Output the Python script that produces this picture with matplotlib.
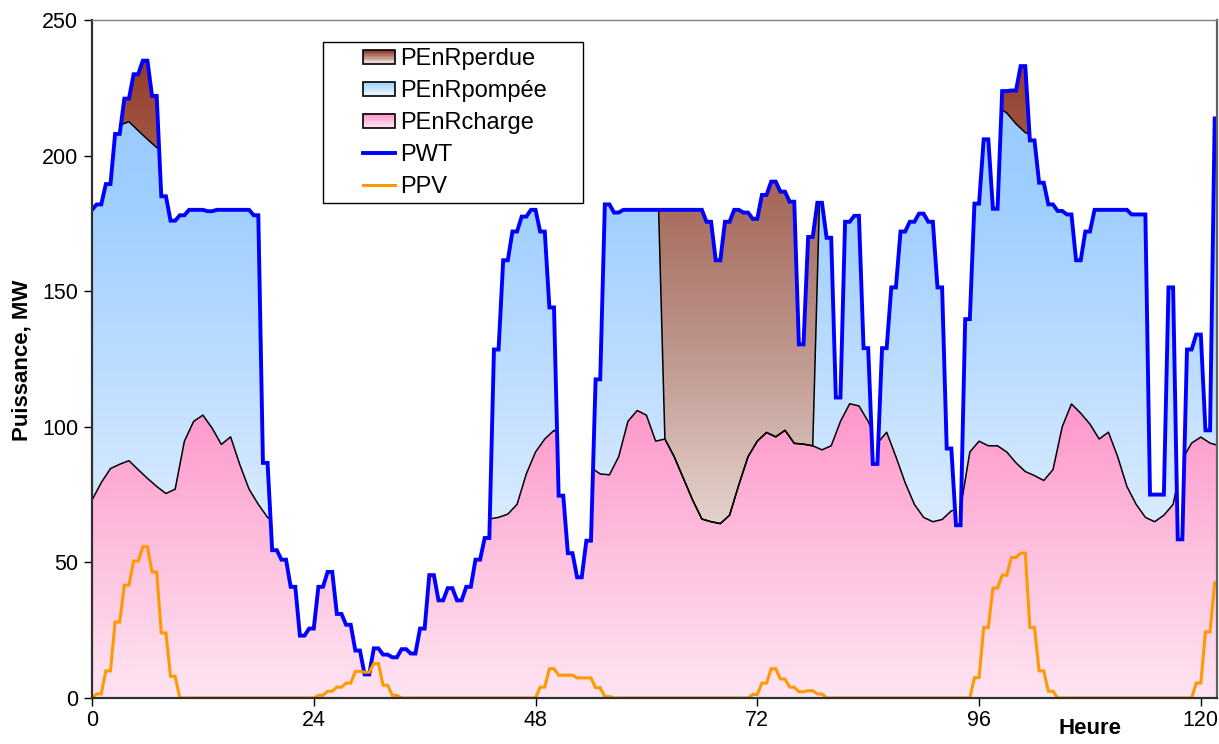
import numpy as np
import matplotlib
matplotlib.use("Agg")
import matplotlib.pyplot as plt
from matplotlib.patches import Rectangle, Patch
from matplotlib.lines import Line2D
from matplotlib.legend_handler import HandlerBase

plt.rcParams['font.family'] = ['Liberation Sans', 'DejaVu Sans']

# === DONNEES (valeurs horaires, MW)
heures = np.arange(0, 123)

pwt = [180, 182, 189.5, 208, 221, 230, 235, 222, 185, 176,
       178, 180, 180, 179.5, 180, 180, 180, 180, 178, 86.7,
       54.5, 51, 41, 23, 25.6, 41, 46.5, 31, 27, 17.5,
       8.7, 18.3, 16, 15, 18, 16.4, 25.6, 45.3, 36, 40.5,
       36, 41, 51, 59, 128.5, 161.4, 172, 177.5, 180, 172,
       144, 74.6, 53.4, 44.5, 58, 117.5, 182, 179, 180, 180,
       180, 180, 180, 180, 180, 180, 180, 175.6, 161.4, 175.6,
       180, 179, 176.7, 185.5, 190.4, 186.7, 183, 130.4, 170, 182.6,
       169.7, 110.8, 175.6, 177.8, 129, 86.3, 129, 151.4, 172, 175.6,
       178.6, 175.6, 151.4, 92, 63.7, 139.7, 182.3, 206, 180.4, 223.8,
       224, 233, 205.6, 190, 182, 179.6, 178.3, 161.4, 172, 180,
       180, 180, 180, 178.3, 178.3, 75, 75, 151.4, 58.5, 128.5,
       134, 98.7, 213.7]

ppv = [0, 1.5, 10, 28, 41.6, 50.5, 55.8, 46.5, 24, 8,
       0, 0, 0, 0, 0, 0, 0, 0, 0, 0,
       0, 0, 0, 0, 0, 1, 2.5, 4, 5.5, 9.8,
       9.5, 12.7, 4.7, 1, 0, 0, 0, 0, 0, 0,
       0, 0, 0, 0, 0, 0, 0, 0, 0, 4,
       10.8, 8.4, 8.4, 7.4, 7.4, 3.8, 0.5, 0, 0, 0,
       0, 0, 0, 0, 0, 0, 0, 0, 0, 0,
       0, 0, 1.3, 5.5, 10.8, 7, 4, 2.3, 2.7, 1.5,
       0, 0, 0, 0, 0, 0, 0, 0, 0, 0,
       0, 0, 0, 0, 0, 0, 7.5, 26, 40.5, 45.3,
       51.8, 53.4, 26, 10, 2.5, 0, 0, 0, 0, 0,
       0, 0, 0, 0, 0, 0, 0, 0, 0, 0,
       5.5, 24.4, 42.5]

# consommation couverte (haut de PEnRcharge)
charge = [73, 79.4, 84.6, 86.2, 87.5, 84.2, 81, 78, 75.4, 77,
          94.7, 102, 104.3, 99.5, 93.5, 96.3, 86, 77, 71.4, 66.6,
          64, 62, 61, 60, 60, 61, 63, 66, 70, 74,
          77, 79, 80, 80, 79, 77, 75, 73, 71, 69,
          68, 67, 66, 66, 66.6, 67.8, 71.4, 82.6, 90.7, 95.5,
          98.7, 96, 92, 88, 85, 82.6, 82.3, 89, 102, 106,
          104.3, 94.7, 95.5, 89, 81, 73, 66, 65, 64.3, 67.4,
          78.6, 89, 94.7, 97.9, 96.3, 98.7, 93.9, 93.6, 93, 91.5,
          93, 102, 108.5, 107.7, 102, 94, 98, 89, 79.4, 71.4,
          66.6, 65, 65.8, 69, 70, 90.7, 94.7, 93, 93, 90.7,
          86.7, 83.5, 82, 80.2, 84.2, 100, 108.4, 105, 101, 95.5,
          98, 89, 78, 71.4, 66.6, 65, 67.4, 71.4, 88, 94,
          96.2, 94, 93]

# puissance de pompage disponible (0 quand le réservoir est plein)
pompage_max = [125] * 62 + [0] * 17 + [125] * 44

XMAX = 121.75

# palier d'une demi-heure puis rampe vers la valeur suivante
t_pas = np.arange(0, 122.5, 0.5)
pwt_pas = np.repeat(pwt, 2)[1:]
ppv_pas = np.repeat(ppv, 2)[1:]
haut_pompe = np.array(charge) + np.array(pompage_max)

brun = [(0, (250, 246, 245)), (40, (240, 228, 224)), (80, (220, 197, 190)),
        (120, (194, 157, 148)), (180, (168, 110, 96)), (240, (148, 55, 35)), (250, (145, 50, 30))]
bleu = [(0, (250, 252, 255)), (60, (220, 236, 255)), (180, (160, 207, 255)), (250, (150, 200, 255))]
rose = [(0, (255, 228, 242)), (50, (253, 195, 224)), (105, (255, 153, 204)), (250, (255, 150, 200))]


def degrade(stops):
    yy = np.linspace(0, 250, 256)
    img = np.zeros((256, 1, 3))
    for c in range(3):
        img[:, 0, c] = np.interp(yy, [s[0] for s in stops], [s[1][c] for s in stops]) / 255
    return img


class Degrade(HandlerBase):
    def __init__(self, haut, bas):
        super().__init__()
        self.haut, self.bas = haut, bas

    def create_artists(self, legend, orig_handle, xdescent, ydescent, width, height, fontsize, trans):
        arts = []
        n = 10
        for i in range(n):
            f = i / (n - 1)
            col = [(b + (h - b) * f) / 255 for h, b in zip(self.haut, self.bas)]
            arts.append(Rectangle((-xdescent, -ydescent + i * height / n), width, height / n + 0.3,
                                  facecolor=col, edgecolor='none', transform=trans))
        arts.append(Rectangle((-xdescent, -ydescent), width, height, facecolor='none',
                              edgecolor='black', lw=1.2, transform=trans))
        return arts


fig = plt.figure(figsize=(12.19, 7.44), dpi=100)
ax = fig.add_axes([92 / 1219, 46 / 744, 1125 / 1219, 678 / 744])


def remplir(x, y, stops, z):
    poly = ax.fill_between(x, 0, y, facecolor='none', edgecolor='none', zorder=z)
    im = ax.imshow(degrade(stops), extent=[0, XMAX, 0, 250], origin='lower',
                   aspect='auto', zorder=z, interpolation='bilinear')
    im.set_clip_path(poly.get_paths()[0], transform=ax.transData)


remplir(t_pas, pwt_pas, brun, 1)
remplir(heures, haut_pompe, bleu, 1.1)
remplir(heures, charge, rose, 1.2)
ax.plot(heures, haut_pompe, color='black', lw=1.1, zorder=1.3)
ax.plot(heures, charge, color='black', lw=1.1, zorder=1.3)

# masque au-dessus de PWT
ax.fill_between(t_pas, pwt_pas, 300, color='white', lw=0, zorder=2)

ax.plot(t_pas, pwt_pas, color='#0000ff', lw=2.8, zorder=3, solid_joinstyle='miter')
ax.plot(t_pas, ppv_pas, color='#ff9900', lw=2.2, zorder=3.1, solid_joinstyle='miter')

ax.set_xlim(0, XMAX)
ax.set_ylim(0, 250)
ax.set_xticks([0, 24, 48, 72, 96, 120])
ax.set_yticks([0, 50, 100, 150, 200, 250])
ax.tick_params(direction='out', length=6, width=1, labelsize=15.5, colors='black')
ax.tick_params(axis='y', pad=4)
ax.tick_params(axis='x', pad=3)
for s in ax.spines.values():
    s.set_zorder(10)
ax.spines['left'].set_color('#303030')
ax.spines['bottom'].set_color('#303030')
ax.spines['left'].set_linewidth(1.6)
ax.spines['bottom'].set_linewidth(1.6)
ax.spines['top'].set_color('#808080')
ax.spines['right'].set_color('#606060')
ax.spines['top'].set_linewidth(1)
ax.spines['right'].set_linewidth(1.6)

fig.text(22 / 1219, 1 - 360 / 744, 'Puissance, MW', rotation=90, ha='center', va='center',
         fontsize=16, fontweight='bold')
fig.text(1090 / 1219, 1 - 728 / 744, 'Heure', ha='center', va='center',
         fontsize=16, fontweight='bold')

# cadre de légende
ax.add_patch(Rectangle((0.2053, 0.7301), 0.2311, 0.2375, transform=ax.transAxes,
                       facecolor='white', edgecolor='black', lw=1, zorder=8))
h_perdue = Patch()
h_pompee = Patch()
h_charge = Patch()
handles = [h_perdue, h_pompee, h_charge,
           Line2D([], [], color='#0000ff', lw=2.8),
           Line2D([], [], color='#ff9900', lw=2.2)]
labels = ['PEnRperdue', 'PEnRpompée', 'PEnRcharge', 'PWT', 'PPV']
leg = ax.legend(handles, labels, loc='upper left', bbox_to_anchor=(0.2409, 0.958),
                frameon=False, borderpad=0, borderaxespad=0, fontsize=17,
                handlelength=1.36, handleheight=0.55, handletextpad=0.22, labelspacing=0.42,
                handler_map={h_perdue: Degrade((140, 50, 35), (245, 235, 232)),
                             h_pompee: Degrade((160, 205, 255), (240, 247, 255)),
                             h_charge: Degrade((255, 150, 200), (255, 230, 243))})
leg.set_zorder(9)

fig.savefig('out.png', dpi=100)
